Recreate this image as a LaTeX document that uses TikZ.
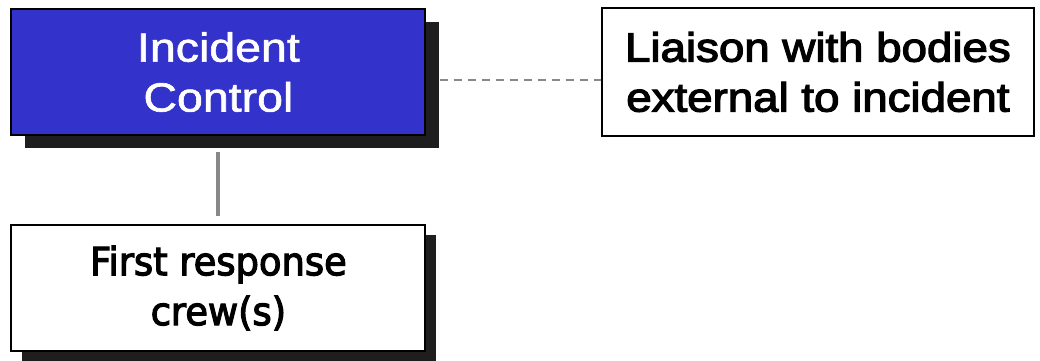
\documentclass[tikz,border=0pt]{standalone}
\usepackage{fontspec}
\setmainfont{Liberation Sans}[FakeStretch=1.12, FakeBold=3]
\newfontfamily\ctrlfont{Liberation Sans}[FakeStretch=1.14, FakeBold=1.5]
\newfontfamily\crewfont{DejaVu Sans}[FakeStretch=0.95, FakeBold=3]
\usetikzlibrary{positioning,shadows}
\definecolor{ctrlblue}{RGB}{51,51,204}
\definecolor{shade}{RGB}{30,30,30}
\definecolor{linkgray}{RGB}{136,136,136}

\begin{document}
\begin{tikzpicture}[
                            node distance=2.2cm,
                            orgbox/.style={draw=black, rectangle, line width=1.4pt, inner sep=0pt, align=center,
                                           minimum height=3.15cm, minimum width=10.35cm,
                                           font=\fontsize{29}{35.5}\selectfont},
                            boxshadow/.style={drop shadow={shadow xshift=#1, shadow yshift=-#1, opacity=1, fill=shade}},
                            link/.style={draw=linkgray, line width=1.4pt}
                            ]

                            \useasboundingbox (0,0) rectangle (26,9);

                            \node [orgbox, boxshadow=0.33cm, fill=ctrlblue, text=white,
                                   font=\ctrlfont\fontsize{29}{35.5}\selectfont] (control) at (5.46,7.2) {Incident\\Control};
                            \node [orgbox, fill=white, right=4.375cm of control, minimum width=10.78cm, minimum height=3.18cm] (liaison) {Liaison with bodies\\external to incident};
                            \node [orgbox, boxshadow=0.26cm, fill=white, below=2.2cm of control,
                                   font=\crewfont\fontsize{27.6}{35.5}\selectfont] (crew) {First response\\crew(s)};

                            \draw[link, dash pattern=on 0.2cm off 0.15cm, shorten <=0.33cm] ([yshift=-0.2cm]control.east) -- ([yshift=-0.2cm]control.east -| liaison.west);
                            \draw[link, line width=2.8pt, shorten <=0.4cm, shorten >=0.2cm] (control) -- (crew);
                        \end{tikzpicture}
\end{document}
